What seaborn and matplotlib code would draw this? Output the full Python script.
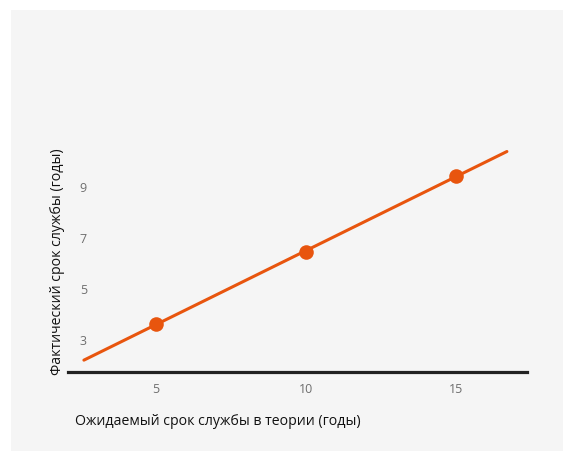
import pandas as pd
import matplotlib.pyplot as plt
from matplotlib.patches import Rectangle
import seaborn as sns

# Данные
ожидаемый = [5, 10, 15]
фактический = [3.6, 6.4, 9.4]
y_ticks = [3, 5, 7, 9]

df = pd.DataFrame({"x": ожидаемый, "y": фактический})

sns.set_theme(style="white")
plt.rcParams['font.family'] = ['Open Sans', 'DejaVu Sans']

orange = "#e8550e"
bg = "#f5f5f5"

fig = plt.figure(figsize=(5.63, 4.52), dpi=100, facecolor="white")
# серая подложка
fig.add_artist(Rectangle((11 / 563, 0), 1, 441 / 452, transform=fig.transFigure,
                         facecolor=bg, edgecolor="none", zorder=-10))

ax = fig.add_axes([68 / 563, 1 - 373 / 452, 459 / 563, 237 / 452])
ax.patch.set_alpha(0)

# линия тренда на чуть более узком диапазоне, чем ось
ax.set_xlim(2.6, 16.7)
sns.regplot(data=df, x="x", y="y", ax=ax, ci=None, truncate=False,
            scatter_kws={"s": 110, "color": orange, "alpha": 1, "zorder": 3, "linewidths": 0},
            line_kws={"color": orange, "lw": 2.2, "zorder": 2})
ax.set_xlim(2.07, 17.37)
ax.set_ylim(1.71, 11)

ax.set_xticks(ожидаемый)
ax.set_xticklabels([str(v) for v in ожидаемый])
ax.set_yticks(y_ticks)
ax.set_yticklabels([str(v) for v in y_ticks])
ax.tick_params(axis="x", length=0, pad=7, labelsize=9, labelcolor="#6e6e6e")
ax.tick_params(axis="y", length=0, pad=-11, labelsize=9, labelcolor="#6e6e6e")
for lab in ax.get_yticklabels():
    lab.set_ha("center")

sns.despine(ax=ax, left=True)
ax.spines["bottom"].set_color("#222222")
ax.spines["bottom"].set_linewidth(2.3)

ax.set_xlabel("Ожидаемый срок службы в теории (годы)", fontsize=10.2, color="#111111", ha="left")
ax.xaxis.set_label_coords(0.015, -0.173)
ax.set_ylabel("Фактический срок службы (годы)", fontsize=10.2, color="#111111", loc="bottom")
ax.yaxis.set_label_coords(-0.0065, -0.01)

fig.savefig("out.png", dpi=100, facecolor="white")
